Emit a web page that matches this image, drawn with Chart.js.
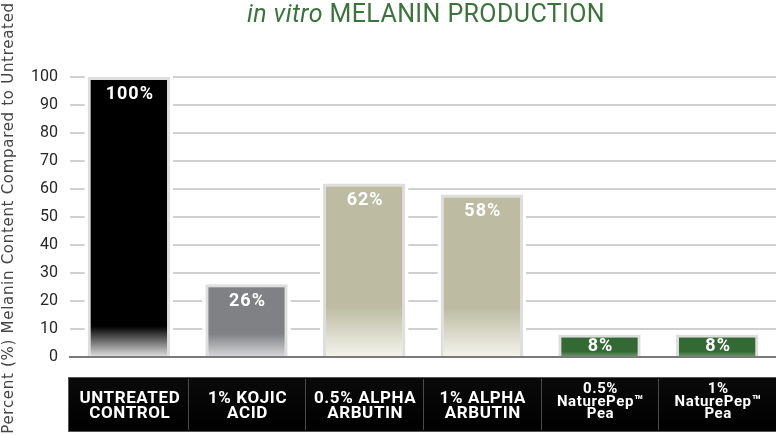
<!DOCTYPE html>
<html>
<head>
<meta charset="utf-8">
<script src="https://cdn.jsdelivr.net/npm/chart.js@4.4.1/dist/chart.umd.min.js"></script>
<style>
  html, body { margin: 0; padding: 0; background: #fff; }
  #chart { display: block; }
</style>
</head>
<body>
<canvas id="chart" width="776" height="435"></canvas>
<script>
'use strict';

// data
const categories = [
    ['UNTREATED', 'CONTROL'],
    ['1% KOJIC', 'ACID'],
    ['0.5% ALPHA', 'ARBUTIN'],
    ['1% ALPHA', 'ARBUTIN'],
    ['0.5%', 'NaturePep™', 'Pea'],
    ['1%', 'NaturePep™', 'Pea']
];
const melanin_pct = [100, 26, 62, 58, 8, 8];
const value_labels = ['100%', '26%', '62%', '58%', '8%', '8%'];
const title_italic = 'in vitro';
const title_main = 'MELANIN PRODUCTION';
const y_title = 'Percent (%) Melanin Content Compared to Untreated';

// styles
const bar_colors = ['#000000', '#808185', '#bdbca3', '#bdbca3', '#336a34', '#336a34'];
const bar_bottoms = ['#e2e2e2', '#d8d8da', '#f4f4ee', '#f4f4ee', '#6f9a6f', '#6f9a6f'];
const fade_fracs = [0.11, 0.32, 0.29, 0.3, 0.25, 0.25];

const bar_fill = ctx => {
    const i = ctx.dataIndex;
    const chart = ctx.chart;
    if (!chart.chartArea) return bar_colors[i];
    const y = chart.scales.y;
    const base = y.getPixelForValue(0);
    const top = y.getPixelForValue(melanin_pct[i]);
    const g = chart.ctx.createLinearGradient(0, base, 0, top);
    g.addColorStop(0, bar_bottoms[i]);
    g.addColorStop(fade_fracs[i], bar_colors[i]);
    g.addColorStop(1, bar_colors[i]);
    return g;
};

const draw_extras = {
    id: 'draw_extras',
    beforeDatasetsDraw(chart) {
        // white halo around each bar, so the grid stops short of it
        const c = chart.ctx;
        const base = chart.scales.y.getPixelForValue(0);
        c.save();
        c.fillStyle = '#fff';
        chart.getDatasetMeta(0).data.forEach(bar => {
            c.fillRect(bar.x - bar.width / 2 - 3, bar.y - 3, bar.width + 6, base - bar.y + 1.5);
        });
        c.restore();
    },
    afterDatasetsDraw(chart) {
        const c = chart.ctx;
        const base = chart.scales.y.getPixelForValue(0);
        c.save();
        c.fillStyle = '#fff';
        c.font = 'bold 18px Roboto';
        c.letterSpacing = '1px';
        c.textAlign = 'center';
        c.textBaseline = 'middle';
        chart.getDatasetMeta(0).data.forEach((bar, i) => {
            const ly = Math.min(bar.y + 17, bar.y + (base - bar.y) / 2 + 1);
            c.fillText(value_labels[i], bar.x + 1, ly);
        });
        c.restore();
    },
    afterDraw(chart) {
        const c = chart.ctx;
        const area = chart.chartArea;
        const x = chart.scales.x;
        c.save();

        // title, mixed italic / regular
        c.fillStyle = '#3b743b';
        c.textBaseline = 'alphabetic';
        c.textAlign = 'left';
        c.letterSpacing = '0.4px';
        const f_it = 'italic 25px Roboto';
        const f_rg = '25px Roboto';
        c.font = f_it;
        const w_it = c.measureText(title_italic + ' ').width;
        c.font = f_rg;
        const w_rg = c.measureText(title_main).width;
        const tx = (area.left + area.right) / 2 + 3 - (w_it + w_rg) / 2;
        c.font = f_it;
        c.fillText(title_italic + ' ', tx, 22);
        c.font = f_rg;
        c.fillText(title_main, tx + w_it, 22);

        // rotated y title
        c.save();
        c.translate(9, 218);
        c.rotate(-Math.PI / 2);
        c.font = '15px "DejaVu Sans"';
        c.letterSpacing = '0.7px';
        c.fillStyle = '#444';
        c.textAlign = 'center';
        c.textBaseline = 'middle';
        c.fillText(y_title, 0, 0);
        c.restore();

        // category band
        const band_top = 377, band_bot = 432;
        const band_l = area.left - 2, band_r = chart.width;
        const g = c.createLinearGradient(0, band_top, 0, band_bot);
        g.addColorStop(0, '#0a0a0a');
        g.addColorStop(1, '#000');
        c.fillStyle = g;
        c.fillRect(band_l, band_top, band_r - band_l, band_bot - band_top);
        c.strokeStyle = '#555';
        c.lineWidth = 1;
        c.strokeRect(band_l + 0.5, band_top + 0.5, band_r - band_l, band_bot - band_top - 1);
        const step = x.getPixelForValue(1) - x.getPixelForValue(0);
        c.strokeStyle = '#4a4a4a';
        for (let i = 1; i < categories.length; i++) {
            const sx = Math.round(x.getPixelForValue(i) - step / 2) + 0.5;
            c.beginPath();
            c.moveTo(sx, band_top + 2);
            c.lineTo(sx, band_bot - 2);
            c.stroke();
        }
        c.fillStyle = '#fff';
        c.textAlign = 'center';
        c.textBaseline = 'middle';
        c.letterSpacing = '0.6px';
        categories.forEach((lines, i) => {
            const cx = x.getPixelForValue(i) + 1;
            const three = lines.length > 2;
            const lh = three ? 12.5 : 14.5;
            const mid = three ? 402 : 406;
            c.font = three ? 'bold 15px Roboto' : 'bold 17px Roboto';
            lines.forEach((line, j) => {
                c.fillText(line, cx, mid + (j - (lines.length - 1) / 2) * lh);
            });
        });
        c.restore();
    }
};

new Chart(document.querySelector('#chart'), {
    type: 'bar',
    data: {
        labels: categories,
        datasets: [{
            data: melanin_pct,
            backgroundColor: bar_fill,
            borderColor: '#dedede',
            borderWidth: 3,
            borderSkipped: 'bottom',
            barPercentage: 0.7,
            categoryPercentage: 1
        }]
    },
    options: {
        responsive: false,
        animation: false,
        devicePixelRatio: 1,
        layout: { padding: { top: 77, right: 0, bottom: 0, left: 0 } },
        plugins: { legend: { display: false }, tooltip: { enabled: false } },
        scales: {
            x: {
                grid: { display: false },
                border: { display: true, color: '#7a7a7a', width: 2 },
                ticks: { display: false },
                afterFit: scale => { scale.height = 78; }
            },
            y: {
                min: 0,
                max: 100,
                ticks: { stepSize: 10, color: '#262626', font: { family: 'Roboto', size: 16 }, padding: 12 },
                grid: {
                    drawTicks: false,
                    color: ctx => ctx.tick.value === 0 ? 'rgba(0,0,0,0)' : '#d0d0d0',
                    lineWidth: 2
                },
                border: { display: false },
                afterFit: scale => { scale.width = 70; }
            }
        }
    },
    plugins: [draw_extras]
});
</script>
</body>
</html>
